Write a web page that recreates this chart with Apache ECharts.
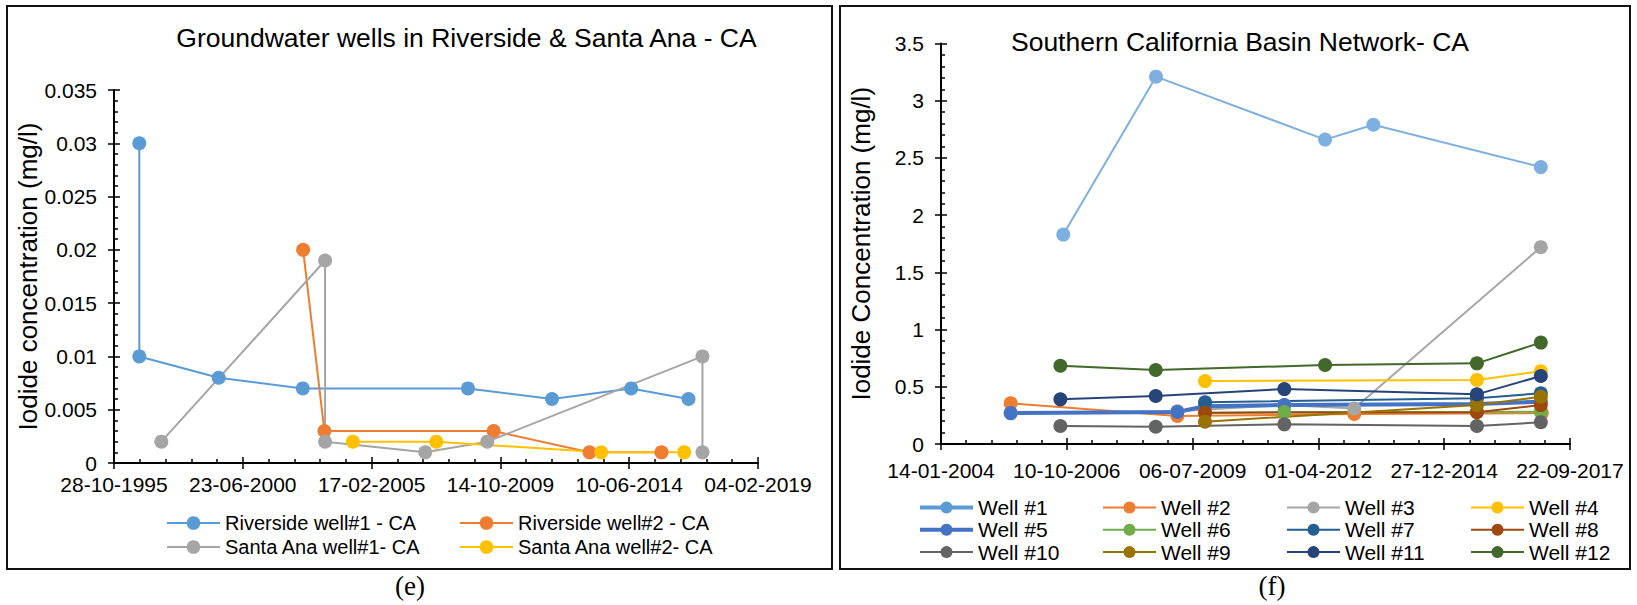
<!DOCTYPE html>
<html>
<head>
<meta charset="utf-8">
<script src="https://cdn.jsdelivr.net/npm/echarts@6/dist/echarts.min.js"></script>
<style>
html, body { margin: 0; padding: 0; background: #fff; }
#chart { width: 1637px; height: 605px; }
</style>
</head>
<body>
<div id="chart"></div>
<script>
// ---------- Panel (e): Riverside & Santa Ana wells ----------
const ticksE = ['28-10-1995', '23-06-2000', '17-02-2005', '14-10-2009', '10-06-2014', '04-02-2019'];
const yTicksE = [0, 0.005, 0.01, 0.015, 0.02, 0.025, 0.03, 0.035];

const riverside1Dates = ['1996-09-26', '1996-09-26', '1999-08-10', '2002-08-24', '2008-08-12', '2011-08-26', '2014-07-06', '2016-08-01'];
const riverside1Iodide = [0.030, 0.010, 0.008, 0.007, 0.007, 0.006, 0.007, 0.006];

const riverside2Dates = ['2002-08-28', '2003-06-05', '2009-07-17', '2013-01-02', '2015-08-10'];
const riverside2Iodide = [0.020, 0.003, 0.003, 0.001, 0.001];

const santaAna1Dates = ['1997-07-14', '2003-06-14', '2003-06-14', '2007-01-26', '2009-04-24', '2017-02-01', '2017-02-01'];
const santaAna1Iodide = [0.002, 0.019, 0.002, 0.001, 0.002, 0.010, 0.001];

const santaAna2Dates = ['2004-06-15', '2007-06-21', '2013-06-05', '2016-06-05'];
const santaAna2Iodide = [0.002, 0.002, 0.001, 0.001];

// ---------- Panel (f): Southern California Basin Network ----------
const ticksF = ['14-01-2004', '10-10-2006', '06-07-2009', '01-04-2012', '27-12-2014', '22-09-2017'];
const yTicksF = [0, 0.5, 1, 1.5, 2, 2.5, 3, 3.5];

const well1Dates = ['2006-09-12', '2008-09-18', '2012-05-24', '2013-06-12', '2017-02-02'];
const well1Iodide = [1.83, 3.21, 2.66, 2.79, 2.42];

const well2Dates = ['2005-07-21', '2009-03-07', '2013-01-11', '2017-02-10'];
const well2Iodide = [0.356, 0.245, 0.262, 0.27];

const well3Dates = ['2005-07-21', '2009-03-07', '2011-07-05', '2013-01-11', '2017-02-02'];
const well3Iodide = [0.268, 0.286, 0.34, 0.31, 1.72];

const well4Dates = ['2009-10-13', '2015-09-13', '2017-02-02'];
const well4Iodide = [0.55, 0.56, 0.635];

const well5Dates = ['2005-07-21', '2009-03-07', '2009-10-13', '2011-07-05', '2015-09-13', '2017-02-02'];
const well5Iodide = [0.27, 0.28, 0.33, 0.34, 0.35, 0.37];

const well6Dates = ['2009-10-13', '2011-07-05', '2015-09-13', '2017-02-02'];
const well6Iodide = [0.27, 0.28, 0.28, 0.282];

const well7Dates = ['2009-10-13', '2015-09-13', '2017-02-02'];
const well7Iodide = [0.365, 0.40, 0.443];

const well8Dates = ['2009-10-13', '2015-09-13', '2017-02-02'];
const well8Iodide = [0.274, 0.277, 0.34];

const well10Dates = ['2006-08-20', '2008-09-16', '2011-07-05', '2015-09-13', '2017-02-02'];
const well10Iodide = [0.157, 0.151, 0.172, 0.157, 0.19];

const well9Dates = ['2009-10-13', '2015-09-13', '2017-02-02'];
const well9Iodide = [0.195, 0.34, 0.413];

const well11Dates = ['2006-08-20', '2008-09-16', '2011-07-05', '2015-09-13', '2017-02-02'];
const well11Iodide = [0.39, 0.42, 0.48, 0.434, 0.594];

const well12Dates = ['2006-08-20', '2008-09-16', '2012-05-24', '2015-09-13', '2017-02-02'];
const well12Iodide = [0.684, 0.647, 0.69, 0.705, 0.886];

// ---------- helpers ----------
const FONT = '"Liberation Sans", Arial, sans-serif';
const SERIF = '"Liberation Serif", "Times New Roman", serif';
const DAY = 86400000;

function parseDMY(s) {
  const [d, m, y] = s.split('-').map(Number);
  return Date.UTC(y, m - 1, d);
}
function days(iso, originMs) {
  return Math.round((Date.parse(iso) - originMs) / DAY);
}
function dateAxis(ticks) {
  const origin = parseDMY(ticks[0]);
  const step = Math.round((parseDMY(ticks[1]) - origin) / DAY);
  const max = Math.round((parseDMY(ticks[ticks.length - 1]) - origin) / DAY);
  return { origin, step, max };
}
const axE = dateAxis(ticksE);
const axF = dateAxis(ticksF);

function line(name, dates, values, color, ax, idx, width, size) {
  return {
    type: 'line',
    name: name,
    xAxisIndex: idx,
    yAxisIndex: idx,
    data: dates.map((d, i) => [days(d, ax.origin), values[i]]),
    symbol: 'circle',
    symbolSize: size,
    showSymbol: true,
    lineStyle: { color: color, width: width },
    itemStyle: { color: color },
    emphasis: { disabled: true },
    animation: false
  };
}

const tickLine = { color: '#000', width: 1.5 };

function mainX(grid, ax, ticks, margin) {
  return {
    type: 'value', gridIndex: grid, min: 0, max: ax.max, interval: ax.step,
    axisLine: { show: true, onZero: false, lineStyle: { color: '#000', width: 2 } },
    axisTick: { show: true, inside: true, length: 6, lineStyle: tickLine },
    minorTick: { show: true, splitNumber: 5, length: 4, lineStyle: tickLine },
    splitLine: { show: false }, minorSplitLine: { show: false },
    axisLabel: {
      margin: margin, fontSize: 21, lineHeight: 20, color: '#000', fontFamily: FONT,
      formatter: v => ticks[Math.round(v / ax.step)]
    }
  };
}
function mainY(grid, yt, name, gap) {
  return {
    type: 'value', gridIndex: grid, min: yt[0], max: yt[yt.length - 1], interval: yt[1] - yt[0],
    name: name, nameLocation: 'middle', nameGap: gap,
    nameTextStyle: { fontSize: 26, color: '#000', fontFamily: FONT },
    axisLine: { show: true, onZero: false, lineStyle: { color: '#000', width: 2 } },
    axisTick: { show: true, inside: true, length: 6, lineStyle: tickLine },
    minorTick: { show: true, splitNumber: 5, length: 4, lineStyle: tickLine },
    splitLine: { show: false }, minorSplitLine: { show: false },
    axisLabel: { margin: 17, fontSize: 21, lineHeight: 16, color: '#000', fontFamily: FONT }
  };
}
// outer half of the major ticks, drawn on a twin grid
function outerX(grid, ax) {
  return {
    type: 'value', gridIndex: grid, min: 0, max: ax.max, interval: ax.step,
    axisLine: { show: false }, axisLabel: { show: false }, splitLine: { show: false },
    axisTick: { show: true, inside: false, length: 6, lineStyle: tickLine }
  };
}
function outerY(grid, yt) {
  return {
    type: 'value', gridIndex: grid, min: yt[0], max: yt[yt.length - 1], interval: yt[1] - yt[0],
    axisLine: { show: false }, axisLabel: { show: false }, splitLine: { show: false },
    axisTick: { show: true, inside: false, length: 6, lineStyle: tickLine }
  };
}

const gridE = { left: 114, top: 90, width: 644, height: 373 };
const gridF = { left: 941, top: 43.5, width: 629, height: 400.5 };

function legendCol(names, left, top, fontSize, itemH, gap) {
  return {
    data: names,
    orient: 'vertical',
    left: left, top: top, padding: 0,
    itemWidth: 53, itemHeight: itemH, itemGap: gap,
    textStyle: { fontSize: fontSize, color: '#000', fontFamily: FONT, lineHeight: 20 },
    selectedMode: false
  };
}

const seriesE = [
  line('Riverside well#1 - CA', riverside1Dates, riverside1Iodide, '#5B9BD5', axE, 0, 2, 14),
  line('Riverside well#2 - CA', riverside2Dates, riverside2Iodide, '#ED7D31', axE, 0, 2, 14),
  line('Santa Ana well#1- CA', santaAna1Dates, santaAna1Iodide, '#A5A5A5', axE, 0, 2, 14),
  line('Santa Ana well#2- CA', santaAna2Dates, santaAna2Iodide, '#FFC000', axE, 0, 2, 14)
];
const seriesF = [
  line('Well #1', well1Dates, well1Iodide, '#7EB0DF', axF, 1, 2, 14),
  line('Well #2', well2Dates, well2Iodide, '#ED7D31', axF, 1, 2, 14),
  line('Well #3', well3Dates, well3Iodide, '#A5A5A5', axF, 1, 2, 14),
  line('Well #4', well4Dates, well4Iodide, '#FFC000', axF, 1, 2, 14),
  line('Well #5', well5Dates, well5Iodide, '#4472C4', axF, 1, 4, 14),
  line('Well #6', well6Dates, well6Iodide, '#70AD47', axF, 1, 2, 14),
  line('Well #7', well7Dates, well7Iodide, '#255E91', axF, 1, 2, 14),
  line('Well #8', well8Dates, well8Iodide, '#9E480E', axF, 1, 2, 14),
  line('Well #10', well10Dates, well10Iodide, '#636363', axF, 1, 2, 14),
  line('Well #9', well9Dates, well9Iodide, '#997300', axF, 1, 2, 14),
  line('Well #11', well11Dates, well11Iodide, '#264478', axF, 1, 2, 14),
  line('Well #12', well12Dates, well12Iodide, '#43682B', axF, 1, 2, 14)
];

const chart = echarts.init(document.getElementById('chart'), null, { renderer: 'svg' });
chart.setOption({
  animation: false,
  backgroundColor: '#fff',
  grid: [gridE, gridF, Object.assign({}, gridE), Object.assign({}, gridF)],
  xAxis: [mainX(0, axE, ticksE, 11), mainX(1, axF, ticksF, 16), outerX(2, axE), outerX(3, axF)],
  yAxis: [
    mainY(0, yTicksE, 'Iodide concentration (mg/l)', 73),
    mainY(1, yTicksF, 'Iodide Concentration (mg/l)', 67),
    outerY(2, yTicksE), outerY(3, yTicksF)
  ],
  legend: [
    legendCol(['Riverside well#1 - CA', 'Santa Ana well#1- CA'], 166, 513, 20, 17, 4),
    legendCol(['Riverside well#2 - CA', 'Santa Ana well#2- CA'], 459, 513, 20, 17, 4),
    legendCol([{ name: 'Well #1', lineStyle: { width: 4, color: '#5B9BD5' }, itemStyle: { color: '#5B9BD5' } },
               { name: 'Well #5', lineStyle: { width: 4 } }, 'Well #10'], 918, 497, 21, 15, 1.3),
    legendCol(['Well #2', 'Well #6', 'Well #9'], 1102, 497, 21, 15, 1.3),
    legendCol(['Well #3', 'Well #7', 'Well #11'], 1286, 497, 21, 15, 1.3),
    legendCol(['Well #4', 'Well #8', 'Well #12'], 1470, 497, 21, 15, 1.3)
  ],
  graphic: [
    { type: 'rect', shape: { x: 7, y: 6, width: 825, height: 563 }, style: { fill: 'none', stroke: '#111', lineWidth: 2 } },
    { type: 'rect', shape: { x: 840, y: 6, width: 790, height: 563 }, style: { fill: 'none', stroke: '#111', lineWidth: 2 } },
    { type: 'text', x: 466.5, y: 38, style: { text: 'Groundwater wells in Riverside & Santa Ana - CA', fill: '#000', font: '26.5px ' + FONT, align: 'center', verticalAlign: 'middle' } },
    { type: 'text', x: 1240, y: 42, style: { text: 'Southern California Basin Network- CA', fill: '#000', font: '26.5px ' + FONT, align: 'center', verticalAlign: 'middle' } },
    { type: 'text', x: 410, y: 586, style: { text: '(e)', fill: '#000', font: '27px ' + SERIF, align: 'center', verticalAlign: 'middle' } },
    { type: 'text', x: 1272, y: 586, style: { text: '(f)', fill: '#000', font: '27px ' + SERIF, align: 'center', verticalAlign: 'middle' } }
  ],
  series: seriesE.concat(seriesF)
});
</script>
</body>
</html>
